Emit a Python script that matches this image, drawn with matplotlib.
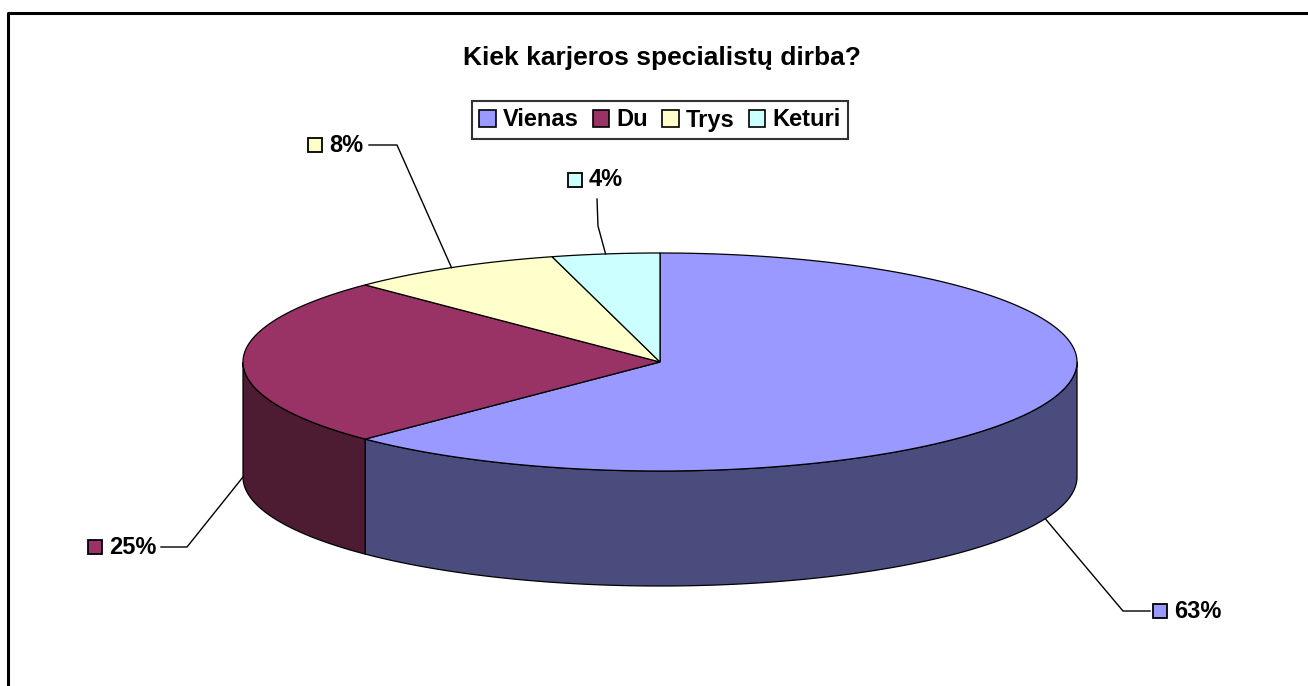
import numpy as np
import matplotlib.pyplot as plt
from matplotlib.patches import Polygon, Patch

plt.rcParams['font.family'] = ['Liberation Sans', 'DejaVu Sans']

# data: 24 answers -> 63%, 25%, 8%, 4%
labels = ['Vienas', 'Du', 'Trys', 'Keturi']
counts = [15, 6, 2, 1]
pct_labels = ['63%', '25%', '8%', '4%']
top_colors = ['#9999FF', '#993366', '#FFFFCC', '#CCFFFF']
side_colors = ['#4B4C7E', '#4D1C33', '#80806A', '#6A8080']

fig = plt.figure(figsize=(13.08, 6.86), dpi=100)
ax = fig.add_axes([0, 0, 1, 1])
ax.set_xlim(0, 1308)
ax.set_ylim(686, 0)
ax.axis('off')

# pie geometry in pixels (tilted ellipse + side depth)
cx, cy, rx, ry, depth = 660, 362, 417, 109, 115


def arc(t):
    return cx + rx * np.cos(t), cy - ry * np.sin(t)


fracs = np.array(counts) / sum(counts)
angles = [np.pi / 2]
for f in fracs:
    angles.append(angles[-1] - 2 * np.pi * f)

# side walls (only the front half is visible)
for i in range(len(counts)):
    a0, a1 = angles[i + 1], angles[i]
    for k in range(-2, 2):
        lo = max(a0, -np.pi + 2 * np.pi * k)
        hi = min(a1, 2 * np.pi * k)
        if hi - lo <= 1e-6:
            continue
        t = np.linspace(lo, hi, 200)
        x, y = arc(t)
        xs = np.concatenate([x, x[::-1]])
        ys = np.concatenate([y, y[::-1] + depth])
        ax.add_patch(Polygon(np.column_stack([xs, ys]), closed=True,
                             facecolor=side_colors[i], edgecolor='black',
                             linewidth=0.9, zorder=1))

# top faces
for i in range(len(counts)):
    t = np.linspace(angles[i], angles[i + 1], 300)
    x, y = arc(t)
    xs = np.concatenate([[cx], x])
    ys = np.concatenate([[cy], y])
    ax.add_patch(Polygon(np.column_stack([xs, ys]), closed=True,
                         facecolor=top_colors[i], edgecolor='black',
                         linewidth=0.9, zorder=2))

# data labels with leader lines
label_xy = [(1160, 611), (95, 547), (315, 145), (575, 180)]
elbows = [[(1123, 611), (1150, 611)], [(187, 547), (161, 547)],
          [(397, 145), (369, 145)], [(598, 226), (597, 199)]]
for i in range(len(counts)):
    mid = (angles[i] + angles[i + 1]) / 2
    ax_, ay_ = arc(mid)
    if np.sin(mid) <= 1e-9:
        ay_ += depth
    px = [ax_] + [p[0] for p in elbows[i]]
    py = [ay_] + [p[1] for p in elbows[i]]
    ax.plot(px, py, color='black', lw=1.0, zorder=3)
    sx, sy = label_xy[i]
    ax.plot(sx, sy, marker='s', markersize=10, markerfacecolor=top_colors[i],
            markeredgecolor='black', markeredgewidth=1.3, zorder=4)
    ax.text(sx + 14, sy, pct_labels[i], fontsize=17, fontweight='bold',
            ha='left', va='center', zorder=4)

# title and legend
ax.text(662, 58, 'Kiek karjeros specialistų dirba?', fontsize=19,
        fontweight='bold', ha='center', va='center')
handles = [Patch(facecolor=c, edgecolor='black', linewidth=1.2)
           for c in top_colors]
leg = fig.legend(handles, labels, ncol=4, loc='center',
                 bbox_to_anchor=(660 / 1308, 1 - 120 / 686),
                 prop={'size': 17, 'weight': 'bold'}, frameon=True,
                 fancybox=False, handlelength=0.7, handleheight=0.7,
                 handletextpad=0.3, columnspacing=0.6, borderpad=0.3,
                 borderaxespad=0)
leg.get_frame().set_edgecolor('black')
leg.get_frame().set_linewidth(1.5)

# outer chart frame
ax.plot([7.5, 7.5, 1308], [686, 12.5, 12.5], color='black', lw=2.2,
        solid_capstyle='projecting')

fig.savefig('out.png', dpi=100)
